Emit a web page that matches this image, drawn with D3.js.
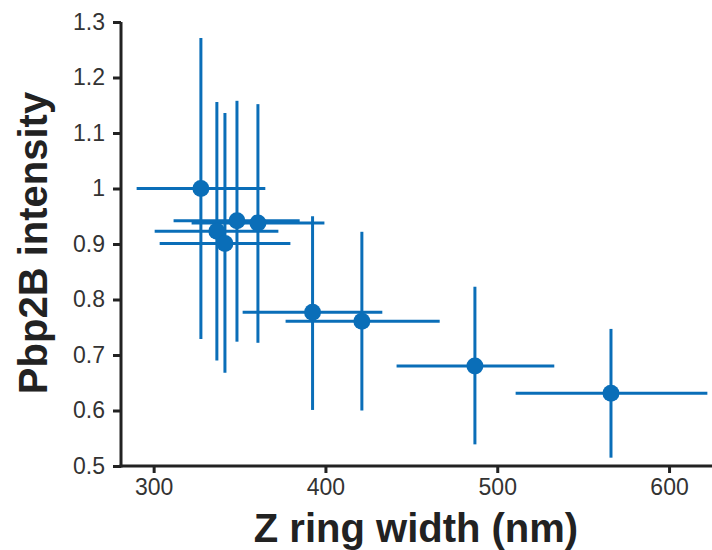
<!DOCTYPE html>
<html>
<head>
<meta charset="utf-8">
<script src="https://cdn.jsdelivr.net/npm/d3@7"></script>
<style>
  html, body { margin: 0; padding: 0; background: #fff; }
  svg { display: block; }
</style>
</head>
<body>
<svg id="chart" width="712" height="550"></svg>
<script>
// Data
const zWidth   = [327.5, 348.5, 360.7, 336.8, 341.5, 392.5, 421.2, 487.0, 566.2];
const zLow     = [290.1, 311.6, 322.1, 300.6, 303.5, 351.8, 376.8, 441.4, 510.7];
const zHigh    = [365.0, 385.0, 399.4, 372.6, 379.6, 433.1, 466.5, 533.2, 622.3];
const intensity= [1.000, 0.942, 0.938, 0.923, 0.901, 0.777, 0.761, 0.680, 0.631];
const intLow   = [0.729, 0.724, 0.722, 0.690, 0.668, 0.601, 0.600, 0.539, 0.515];
const intHigh  = [1.271, 1.158, 1.152, 1.156, 1.136, 0.950, 0.922, 0.823, 0.747];
const xTicks = [300, 400, 500, 600];
const yTicks = [0.5, 0.6, 0.7, 0.8, 0.9, 1.0, 1.1, 1.2, 1.3];
const xTitle = "Z ring width (nm)";
const yTitle = "Pbp2B intensity";

const color = "#0a6eb8";
const axisColor = "#222";

const svg = d3.select("#chart");
const x = d3.scaleLinear().domain([281, 625]).range([121, 712]);
const y = d3.scaleLinear().domain([0.5, 1.3]).range([466, 22]);

const pts = zWidth.map((v, i) => ({x: v, xl: zLow[i], xh: zHigh[i], y: intensity[i], yl: intLow[i], yh: intHigh[i]}));

// axes
const xAxis = d3.axisBottom(x).tickValues(xTicks).tickFormat(d3.format("d")).tickSizeOuter(0).tickSize(7).tickPadding(6);
const yAxis = d3.axisLeft(y).tickValues(yTicks).tickFormat(d => d === 1 ? "1" : d3.format(".1f")(d)).tickSizeOuter(0).tickSize(8).tickPadding(8);

const gx = svg.append("g").attr("transform", "translate(0,466)").call(xAxis);
const gy = svg.append("g").attr("transform", "translate(121,0)").call(yAxis);
[gx, gy].forEach(g => {
  g.select(".domain").attr("stroke", axisColor).attr("stroke-width", 3);
  g.selectAll(".tick line").attr("stroke", axisColor).attr("stroke-width", 3);
  g.selectAll(".tick text").attr("fill", "#333").attr("font-family", "Liberation Sans, Arial, sans-serif").attr("font-size", 23);
});
// extend domains slightly to meet at corner
gx.select(".domain").attr("d", `M${121 - 1.5},0H712`);
gy.select(".domain").attr("d", `M0,${466 + 1.5}V${y(1.3)}`);

// error bars
const g = svg.append("g");
g.selectAll(".vbar").data(pts).join("line")
  .attr("x1", d => x(d.x)).attr("x2", d => x(d.x))
  .attr("y1", d => y(d.yl)).attr("y2", d => y(d.yh))
  .attr("stroke", color).attr("stroke-width", 3);
g.selectAll(".hbar").data(pts).join("line")
  .attr("x1", d => x(d.xl)).attr("x2", d => x(d.xh))
  .attr("y1", d => y(d.y)).attr("y2", d => y(d.y))
  .attr("stroke", color).attr("stroke-width", 3);
g.selectAll("circle").data(pts).join("circle")
  .attr("cx", d => x(d.x)).attr("cy", d => y(d.y)).attr("r", 8.5)
  .attr("fill", color);

// titles
svg.append("text").attr("x", 416).attr("y", 542).attr("text-anchor", "middle")
  .attr("font-family", "Liberation Sans, Arial, sans-serif").attr("font-weight", "bold")
  .attr("font-size", 40).attr("fill", "#222").text(xTitle);
svg.append("text").attr("transform", "translate(47,243) rotate(-90)").attr("text-anchor", "middle")
  .attr("font-family", "Liberation Sans, Arial, sans-serif").attr("font-weight", "bold")
  .attr("font-size", 40).attr("fill", "#222").text(yTitle);
</script>
</body>
</html>
